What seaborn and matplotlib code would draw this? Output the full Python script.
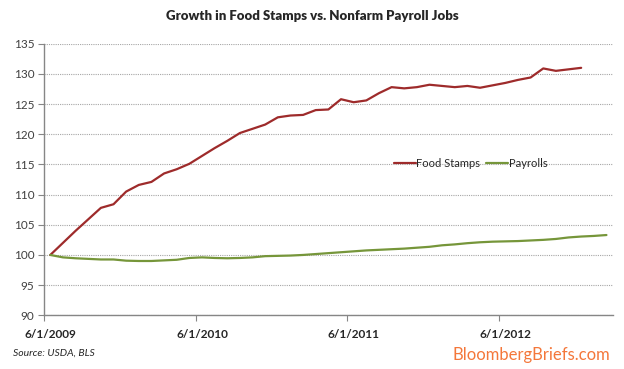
import pandas as pd
import matplotlib
matplotlib.use("Agg")
import matplotlib.pyplot as plt
import seaborn as sns

# =========================================
# DATA (index, 6/1/2009 = 100, monthly)
# =========================================

START_LABELS = ["6/1/2009", "6/1/2010", "6/1/2011", "6/1/2012"]
N_MONTHS = 45

food_stamps = [
    100.0, 102.0, 104.0, 105.9, 107.8, 108.4, 110.5, 111.6, 112.1, 113.5,
    114.2, 115.1, 116.4, 117.7, 118.9, 120.2, 120.9, 121.6, 122.8, 123.1,
    123.2, 124.0, 124.1, 125.8, 125.3, 125.6, 126.8, 127.8, 127.6, 127.8,
    128.2, 128.0, 127.8, 128.0, 127.7, 128.1, 128.5, 129.0, 129.4, 130.9,
    130.5, 130.75, 131.0,
]

payrolls = [
    100.0, 99.6, 99.45, 99.35, 99.25, 99.25, 99.05, 99.0, 99.0, 99.1,
    99.2, 99.5, 99.6, 99.5, 99.45, 99.5, 99.6, 99.8, 99.85, 99.9,
    100.0, 100.15, 100.3, 100.45, 100.6, 100.75, 100.85, 100.95, 101.05, 101.2,
    101.35, 101.6, 101.75, 101.95, 102.1, 102.2, 102.25, 102.3, 102.4, 102.5,
    102.65, 102.9, 103.05, 103.15, 103.3,
]

SERIES_COLORS = {"Food Stamps": "#9E2B2B", "Payrolls": "#76963A"}

# =========================================
# BUILD LONG TABLE
# =========================================

df = pd.concat([
    pd.DataFrame({"month": range(len(food_stamps)), "value": food_stamps, "series": "Food Stamps"}),
    pd.DataFrame({"month": range(len(payrolls)), "value": payrolls, "series": "Payrolls"}),
], ignore_index=True)

# =========================================
# PLOT
# =========================================

sns.set_style("white")
plt.rcParams["font.family"] = ["Lato", "DejaVu Sans"]

fig = plt.figure(figsize=(6.24, 3.69), dpi=100)
ax = fig.add_axes([0.0705, 0.1455, 0.9115, 0.7361])

sns.lineplot(
    data=df, x="month", y="value", hue="series",
    palette=SERIES_COLORS, linewidth=1.6, ax=ax
)

ax.set_xlim(-0.5, N_MONTHS - 0.5)
ax.set_ylim(90, 135)
ax.set_yticks(range(90, 136, 5))
ax.grid(axis="y", color="#A6A6A6", linestyle=(0, (1, 1)), linewidth=0.8)
ax.set_axisbelow(True)

# category-style x axis: ticks on boundaries, labels centred on the month
ax.set_xticks([-0.5 + 12 * k for k in range(4)])
ax.set_xticklabels([])
ax.set_xticks([12 * k for k in range(4)], minor=True)
ax.set_xticklabels(START_LABELS, minor=True, fontweight="bold", fontsize=8.5, color="#262626")
ax.tick_params(axis="x", which="major", length=4, color="#868686", direction="out", bottom=True)
ax.tick_params(axis="x", which="minor", length=0, pad=10)
ax.tick_params(axis="y", length=4, color="#868686", direction="out", left=True,
               labelsize=8.5, labelcolor="#404040", pad=3)

for side in ["top", "right"]:
    ax.spines[side].set_visible(False)
for side in ["left", "bottom"]:
    ax.spines[side].set_color("#868686")
    ax.spines[side].set_linewidth(1.0)

ax.set_xlabel("")
ax.set_ylabel("")

ax.legend(
    loc="center", bbox_to_anchor=(0.75, 0.56), ncol=2, frameon=False,
    fontsize=8, handlelength=2.0, handletextpad=0.05, columnspacing=0.5
)

fig.text(0.5, 0.957, "Growth in Food Stamps vs. Nonfarm Payroll Jobs",
         ha="center", va="center", fontsize=9.5, fontweight="heavy", color="#262626")
fig.text(0.021, 0.043, "Source: USDA, BLS", ha="left", va="center",
         fontsize=7.5, style="italic", color="#262626")
fig.text(0.978, 0.038, "BloombergBriefs.com", ha="right", va="center",
         fontsize=12, color="#F4773A")

plt.savefig("out.png", dpi=100)
plt.close()
